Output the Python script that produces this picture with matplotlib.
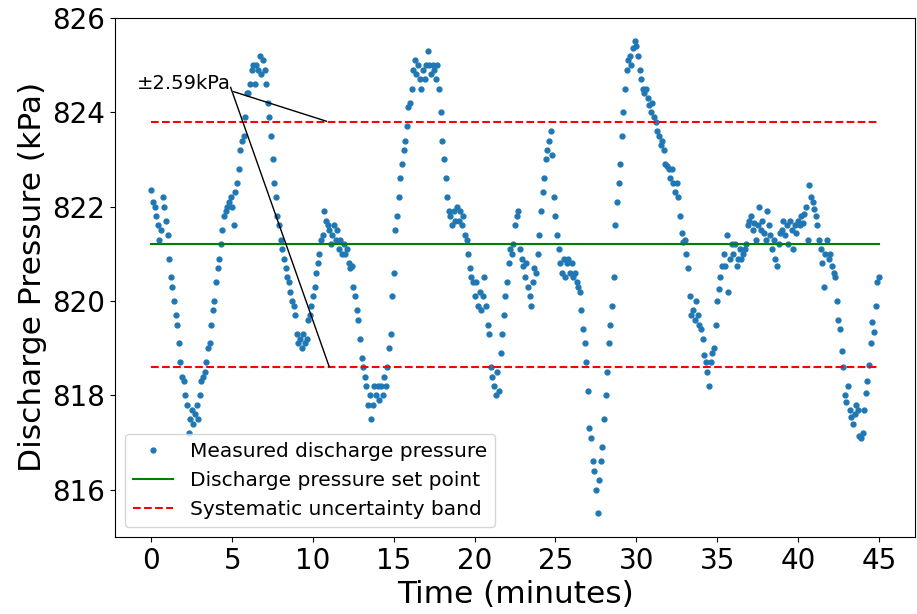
import matplotlib
matplotlib.use("Agg")
import matplotlib.pyplot as plt
import numpy as np

# discharge pressure read every 0.1 min (kPa), one row per minute
pressure = [
    822.35, 822.1, 822.0, 821.8, 821.6, 821.3, 821.5, 822.2, 822.0, 821.7,
    821.4, 820.9, 820.5, 820.3, 820.0, 819.7, 819.5, 819.1, 818.7, 818.4,
    818.3, 818.0, 817.8, 817.2, 817.5, 817.7, 817.4, 817.6, 817.8, 817.5,
    818.0, 818.3, 818.4, 818.5, 818.7, 819.0, 819.1, 819.5, 819.8, 820.0,
    820.4, 820.7, 820.9, 821.2, 821.5, 821.8, 821.9, 822.0, 822.1, 822.2,
    822.0, 821.6, 822.3, 822.5, 822.8, 823.2, 823.4, 823.5, 823.9, 824.4,
    824.4, 824.6, 824.9, 825.0, 824.6, 825.0, 824.9, 825.2, 824.8, 825.1,
    824.9, 824.6, 824.2, 823.9, 823.5, 823.0, 822.5, 822.2, 821.8, 821.6,
    821.3, 821.1, 820.9, 820.7, 820.5, 820.4, 820.2, 820.0, 819.9, 819.7,
    819.3, 819.1, 819.2, 819.0, 819.3, 819.1, 819.2, 819.6, 819.7, 819.9,
    820.1, 820.3, 820.6, 820.8, 821.0, 821.3, 821.4, 821.9, 821.7, 821.6,
    821.5, 821.2, 821.4, 821.6, 821.3, 821.5, 821.1, 821.3, 821.0, 821.2,
    821.0, 821.1, 820.8, 820.7, 820.75, 820.3, 820.1, 819.8, 819.6, 819.2,
    818.8, 818.6, 818.4, 818.2, 817.8, 818.0, 817.5, 817.8, 818.2, 818.0,
    818.2, 817.9, 818.2, 818.0, 818.4, 818.2, 818.6, 819.0, 819.3, 820.1,
    820.6, 821.5, 821.8, 822.2, 822.6, 822.9, 823.2, 823.4, 823.7, 824.1,
    824.2, 824.5, 824.9, 825.1, 824.8, 825.0, 824.7, 824.5, 824.9, 824.7,
    825.0, 825.3, 825.0, 824.8, 825.0, 824.9, 824.7, 825.0, 824.5, 824.0,
    823.4, 823.0, 822.6, 822.2, 821.9, 821.8, 821.6, 821.9, 821.7, 822.0,
    821.7, 821.9, 821.6, 821.8, 821.4, 821.3, 821.0, 820.7, 820.5, 820.4,
    820.1, 820.4, 819.9, 820.2, 819.8, 820.1, 820.5, 819.9, 819.5, 819.3,
    818.6, 818.4, 818.2, 818.0, 818.5, 818.1, 818.9, 819.3, 819.7, 820.1,
    820.4, 820.8, 821.1, 821.0, 821.2, 821.6, 821.8, 821.9, 821.1, 820.9,
    820.75, 820.5, 820.8, 820.3, 820.1, 819.9, 820.4, 820.7, 820.6, 821.0,
    821.4, 821.9, 822.3, 822.6, 823.0, 823.2, 823.4, 823.6, 823.1, 822.2,
    821.8, 821.4, 821.1, 820.8, 820.6, 820.9, 820.5, 820.8, 820.9, 820.6,
    820.8, 820.5, 820.6, 820.4, 820.3, 820.2, 819.8, 819.4, 819.1, 818.7,
    818.1, 817.3, 817.1, 816.6, 816.4, 816.0, 815.5, 816.2, 816.6, 816.9,
    817.5, 818.0, 818.5, 819.1, 819.5, 819.9, 820.5, 821.6, 822.1, 822.5,
    822.9, 823.5, 824.0, 824.5, 824.9, 825.1, 825.2, 825.0, 825.35, 825.5,
    825.4, 825.2, 824.9, 824.7, 824.5, 824.4, 824.5, 824.3, 824.15, 824.0,
    824.2, 823.9, 823.8, 823.6, 823.5, 823.3, 823.4, 823.2, 822.9, 822.85,
    822.8, 822.6, 822.8, 822.5, 822.3, 822.5, 822.2, 821.8, 821.45, 821.25,
    821.3, 821.0, 820.7, 820.1, 819.7, 819.8, 819.6, 820.0, 819.7, 819.5,
    819.4, 819.2, 818.85, 818.7, 818.5, 818.2, 818.7, 818.9, 819.0, 819.5,
    820.0, 820.25, 820.5, 820.75, 821.0, 820.75, 821.4, 820.2, 820.9, 821.2,
    821.0, 821.2, 820.75, 820.9, 821.1, 820.9, 821.0, 821.1, 821.2, 821.6,
    821.7, 821.8, 821.5, 821.65, 821.3, 821.6, 822.0, 821.5, 821.7, 821.45,
    821.3, 821.9, 821.6, 821.4, 821.1, 821.3, 820.9, 820.75, 821.2, 821.45,
    821.5, 821.7, 821.4, 821.6, 821.2, 821.7, 821.5, 821.1, 821.6, 821.45,
    821.7, 821.6, 821.8, 821.65, 821.85, 822.0, 821.3, 822.45, 822.2, 822.1,
    821.95, 821.8, 821.6, 821.3, 821.1, 820.8, 820.3, 821.0, 821.3, 820.9,
    821.0, 820.75, 820.6, 820.5, 820.0, 819.6, 819.4, 818.95, 818.6, 818.0,
    817.85, 818.2, 817.7, 817.55, 817.4, 817.6, 817.8, 817.7, 817.15, 817.1,
    817.2, 817.7, 818.05, 818.3, 818.65, 819.1, 819.55, 819.35, 819.9, 820.4,
    820.5,
]
time = np.arange(len(pressure)) * 0.1

set_point = 821.2
uncert = 2.59
t_span = [0, 45]
x_ticks = [0, 5, 10, 15, 20, 25, 30, 35, 40, 45]

fig = plt.figure(figsize=(9.17, 6.14), dpi=100)
ax = fig.add_subplot(111)
fig.subplots_adjust(left=0.1254, right=0.998, top=0.971, bottom=0.1254)

ax.plot(time, pressure, ".", markersize=7, label="Measured discharge pressure")
ax.plot(t_span, [set_point, set_point], "g", label="Discharge pressure set point")
ax.plot(t_span, [set_point + uncert] * 2, "r--", label="Systematic uncertainty band")
ax.plot(t_span, [set_point - uncert] * 2, "r--")

# label with two leader lines to the band
ax.annotate("±2.59kPa", xy=(11, set_point + uncert), xytext=(-0.9, 824.5),
            fontsize=14, arrowprops=dict(arrowstyle="-", color="k", relpos=(1, 0.1), shrinkA=0))
ax.annotate("", xy=(11, set_point - uncert), xytext=(4.9, 824.53),
            arrowprops=dict(arrowstyle="-", color="k", shrinkA=0, shrinkB=0))

ax.set_xticks(x_ticks)
ax.set_xlabel("Time (minutes)", fontsize=22.5)
ax.set_ylabel("Discharge Pressure (kPa)", fontsize=22.5)
ax.tick_params(labelsize=20)
ax.legend(loc="lower left", fontsize=14.5)

fig.savefig("out.png")
